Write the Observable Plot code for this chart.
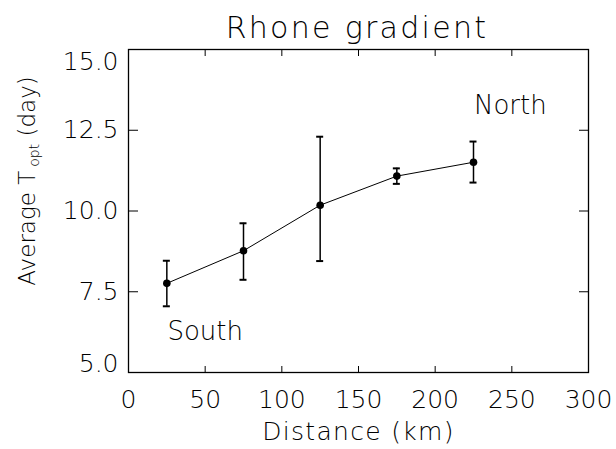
<!DOCTYPE html>
<html>
<head>
<meta charset="utf-8">
<script src="https://cdn.jsdelivr.net/npm/d3@7"></script>
<script src="https://cdn.jsdelivr.net/npm/@observablehq/plot@0.6"></script>
<style>
  html, body { margin: 0; padding: 0; background: #fff; }
</style>
</head>
<body>
<div id="chart"></div>
<script>
const distance = [25, 75, 125, 175, 225];
const topt     = [7.76, 8.77, 10.18, 11.08, 11.51];
const lower    = [7.05, 7.87, 8.45, 10.84, 10.88];
const upper    = [8.46, 9.62, 12.30, 11.32, 12.15];

const xTicks = [0, 50, 100, 150, 200, 250, 300];
const yTicks = [5, 7.5, 10, 12.5, 15];

const annotations = ["South", "North"];
const annotX = [50, 249];
const annotY = [6.0, 13.0];

const titleText = "Rhone gradient";
const xTitle = "Distance (km)";
const yTitleMain = "Average T";
const yTitleSub = "opt";
const yTitleEnd = " (day)";

const data = distance.map((d, i) => ({x: d, y: topt[i], lo: lower[i], hi: upper[i]}));
const notes = annotations.map((t, i) => ({t, x: annotX[i], y: annotY[i]}));

const FONT = "'DejaVu Sans', sans-serif";
const fmt = d3.format(".1f");

const plot = Plot.plot({
  width: 616,
  height: 449,
  marginLeft: 128,
  marginRight: 28,
  marginTop: 49,
  marginBottom: 77,
  style: {fontFamily: FONT, fontWeight: 200, background: "#fff", color: "#000"},
  x: {domain: [0, 300]},
  y: {domain: [5, 15]},
  marks: [
    Plot.frame({stroke: "#000", strokeWidth: 1.3}),
    // inward ticks
    Plot.axisX(xTicks, {anchor: "bottom", tickSize: -6, text: null, label: null, strokeWidth: 1}),
    Plot.axisX(xTicks, {anchor: "top", tickSize: -6, text: null, label: null, strokeWidth: 1}),
    Plot.axisY(yTicks, {anchor: "left", tickSize: -10, text: null, label: null, strokeWidth: 1}),
    Plot.axisY(yTicks, {anchor: "right", tickSize: -10, text: null, label: null, strokeWidth: 1}),
    // tick labels
    Plot.axisX(xTicks, {anchor: "bottom", tickSize: 0, tickPadding: 17.5, fontSize: 25, label: null, tickFormat: d3.format("d")}),
    Plot.axisY([7.5, 10, 12.5], {anchor: "left", tickSize: 0, tickPadding: 10, fontSize: 25, label: null, tickFormat: fmt}),
    Plot.axisY([15], {anchor: "left", tickSize: 0, tickPadding: 10, fontSize: 25, label: null, tickFormat: fmt, dy: 12}),
    Plot.axisY([5], {anchor: "left", tickSize: 0, tickPadding: 10, fontSize: 25, label: null, tickFormat: fmt, dy: -9}),
    // axis titles and chart title
    Plot.text([xTitle], {frameAnchor: "bottom", dy: 67.5, lineAnchor: "bottom", textAnchor: "middle", fontSize: 25, fill: "#000"}),
    Plot.text([yTitleMain], {frameAnchor: "left", textAnchor: "middle", dx: -93.5, dy: -30, rotate: -90, lineAnchor: "bottom", fontSize: 23, fill: "#000"}),
    Plot.text([titleText], {frameAnchor: "top", textAnchor: "middle", dx: -1.5, dy: -12, lineAnchor: "bottom", fontSize: 30, fill: "#000"}),
    // data
    Plot.ruleX(data, {x: "x", y1: "lo", y2: "hi", stroke: "#000", strokeWidth: 1.5}),
    Plot.ruleY(data, {y: "lo", x1: "x", x2: "x", insetLeft: -3.5, insetRight: -3.5, stroke: "#000", strokeWidth: 2}),
    Plot.ruleY(data, {y: "hi", x1: "x", x2: "x", insetLeft: -3.5, insetRight: -3.5, stroke: "#000", strokeWidth: 2}),
    Plot.line(data, {x: "x", y: "y", stroke: "#000", strokeWidth: 1}),
    Plot.dot(data, {x: "x", y: "y", r: 3.8, fill: "#000", stroke: "none"}),
    // annotations
    Plot.text(notes, {x: "x", y: "y", text: "t", lineAnchor: "bottom", textAnchor: "middle", fontSize: 26, fill: "#000"})
  ]
});

const texts = d3.select(plot).selectAll("text");
texts.each(function() {
  const el = d3.select(this);
  const s = this.textContent;
  if (s === titleText) el.attr("letter-spacing", 2.3);
  else if (s === xTitle) el.attr("letter-spacing", 1.3);
  else if (s === yTitleMain) {
    el.text(null);
    el.append("tspan").text(yTitleMain);
    el.append("tspan").attr("font-size", 14).attr("dx", 4).attr("dy", 4).text(yTitleSub);
    el.append("tspan").attr("dy", -4).text(yTitleEnd);
  }
});

document.getElementById("chart").appendChild(plot);
</script>
</body>
</html>
